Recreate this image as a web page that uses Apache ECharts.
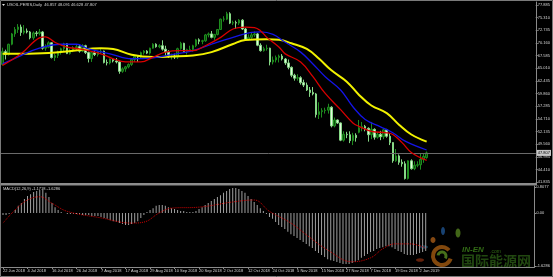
<!DOCTYPE html>
<html><head><meta charset="utf-8">
<script src="https://cdn.jsdelivr.net/npm/echarts@6/dist/echarts.min.js"></script>
<style>html,body{margin:0;padding:0;background:#000;}#c{width:553px;height:277px;}</style>
</head><body><div id="c"></div>
<script>
// ---- data ----
const dates = [
'22 Jun 2018','25 Jun 2018','26 Jun 2018','27 Jun 2018','28 Jun 2018','29 Jun 2018',
'2 Jul 2018','3 Jul 2018','4 Jul 2018','5 Jul 2018','6 Jul 2018','9 Jul 2018','10 Jul 2018','11 Jul 2018','12 Jul 2018','13 Jul 2018','16 Jul 2018','17 Jul 2018','18 Jul 2018','19 Jul 2018','20 Jul 2018','23 Jul 2018','24 Jul 2018','25 Jul 2018','26 Jul 2018','27 Jul 2018','30 Jul 2018','31 Jul 2018',
'1 Aug 2018','2 Aug 2018','3 Aug 2018','6 Aug 2018','7 Aug 2018','8 Aug 2018','9 Aug 2018','10 Aug 2018','13 Aug 2018','14 Aug 2018','15 Aug 2018','16 Aug 2018','17 Aug 2018','20 Aug 2018','21 Aug 2018','22 Aug 2018','23 Aug 2018','24 Aug 2018','27 Aug 2018','28 Aug 2018','29 Aug 2018','30 Aug 2018','31 Aug 2018',
'3 Sep 2018','4 Sep 2018','5 Sep 2018','6 Sep 2018','7 Sep 2018','10 Sep 2018','11 Sep 2018','12 Sep 2018','13 Sep 2018','14 Sep 2018','17 Sep 2018','18 Sep 2018','19 Sep 2018','20 Sep 2018','21 Sep 2018','24 Sep 2018','25 Sep 2018','26 Sep 2018','27 Sep 2018','28 Sep 2018',
'1 Oct 2018','2 Oct 2018','3 Oct 2018','4 Oct 2018','5 Oct 2018','8 Oct 2018','9 Oct 2018','10 Oct 2018','11 Oct 2018','12 Oct 2018','15 Oct 2018','16 Oct 2018','17 Oct 2018','18 Oct 2018','19 Oct 2018','22 Oct 2018','23 Oct 2018','24 Oct 2018','25 Oct 2018','26 Oct 2018','29 Oct 2018','30 Oct 2018','31 Oct 2018',
'1 Nov 2018','2 Nov 2018','5 Nov 2018','6 Nov 2018','7 Nov 2018','8 Nov 2018','9 Nov 2018','12 Nov 2018','13 Nov 2018','14 Nov 2018','15 Nov 2018','16 Nov 2018','19 Nov 2018','20 Nov 2018','21 Nov 2018','22 Nov 2018','23 Nov 2018','26 Nov 2018','27 Nov 2018','28 Nov 2018','29 Nov 2018','30 Nov 2018',
'3 Dec 2018','4 Dec 2018','5 Dec 2018','6 Dec 2018','7 Dec 2018','10 Dec 2018','11 Dec 2018','12 Dec 2018','13 Dec 2018','14 Dec 2018','17 Dec 2018','18 Dec 2018','19 Dec 2018','20 Dec 2018','21 Dec 2018','24 Dec 2018','26 Dec 2018','27 Dec 2018','28 Dec 2018','31 Dec 2018',
'2 Jan 2019','3 Jan 2019','4 Jan 2019'];

const open = [65.8,68.4,67.8,69.9,72.0,72.9,73.4,72.3,72.6,72.4,71.2,72.2,72.1,72.4,69.1,69.3,70.2,67.2,67.6,68.3,69.0,70.0,68.0,68.6,69.2,69.4,68.5,69.6,
68.2,67.0,68.2,67.8,68.4,68.5,66.2,66.1,66.9,66.5,66.3,64.4,64.9,65.3,65.8,66.8,67.4,67.3,68.2,68.5,68.1,69.1,69.9,
69.4,69.6,68.9,68.3,67.4,67.5,67.3,69.0,70.1,68.4,68.8,68.8,69.6,70.8,70.5,70.6,71.8,72.0,71.3,71.9,
72.9,75.0,75.0,76.1,74.2,74.3,74.2,74.8,73.0,70.9,71.3,71.8,72.0,69.7,68.6,69.0,69.1,66.3,66.7,67.2,67.5,66.9,66.1,
65.2,63.6,63.0,63.1,62.1,61.6,60.6,60.1,59.8,55.6,56.2,56.4,56.5,57.1,53.3,54.5,53.9,50.4,51.6,51.5,50.3,51.4,
52.0,52.9,53.2,52.8,51.5,52.6,51.0,51.6,51.1,52.5,51.2,49.9,46.2,47.2,45.9,45.6,42.6,46.2,44.6,45.3,
45.4,46.5,46.857];
const high = [69.2,68.8,70.0,72.2,73.4,74.0,73.9,73.8,73.1,72.6,72.5,72.6,73.0,72.6,69.9,70.5,70.3,68.0,68.6,69.2,70.2,70.1,69.0,69.5,69.8,69.9,69.9,69.8,
68.4,68.3,68.5,68.6,68.9,68.6,66.8,67.0,67.1,67.1,66.4,65.2,65.5,66.0,66.9,67.6,67.6,68.4,68.7,68.7,69.2,70.1,70.1,
69.9,70.7,69.6,68.7,68.0,68.0,69.2,70.4,70.2,69.0,69.6,69.8,71.0,71.1,70.8,72.0,72.3,72.6,72.0,73.0,
75.1,75.6,76.5,76.4,74.7,74.7,75.0,75.0,73.2,71.9,72.2,72.5,72.2,70.1,69.4,69.8,69.2,67.4,67.6,67.8,67.9,67.1,66.8,
65.4,63.9,63.8,63.4,62.7,62.1,61.2,61.2,60.0,58.1,56.9,57.0,57.8,57.3,55.0,54.6,54.0,52.2,52.1,52.2,51.9,51.8,
54.5,54.1,53.5,53.0,54.1,52.8,52.0,52.3,52.7,52.7,51.8,50.0,48.6,47.5,46.5,46.1,46.3,46.5,46.1,46.1,
47.7,47.6,48.091];
const low = [65.6,66.8,67.6,69.7,71.4,72.2,71.6,71.9,72.1,70.9,70.8,71.5,71.7,68.8,68.6,69.1,67.0,66.5,67.1,67.8,68.4,67.9,67.8,68.3,68.7,68.2,68.3,67.9,
66.2,66.3,67.5,67.4,68.0,66.0,65.6,65.8,66.2,66.0,63.9,64.1,64.3,65.0,65.5,66.3,66.3,67.1,67.8,67.9,67.8,69.0,69.2,
69.1,68.6,67.6,67.1,66.8,66.9,66.9,68.8,68.3,67.8,68.4,68.4,69.3,69.9,69.9,70.4,71.3,71.1,70.8,71.7,
72.8,74.5,74.8,74.0,73.8,73.0,73.8,72.8,70.7,70.7,71.0,71.4,69.5,68.4,68.4,68.6,65.6,65.8,66.2,66.2,66.6,65.7,64.8,
63.2,62.5,62.5,61.7,61.2,60.4,59.2,59.5,55.0,54.7,55.0,55.8,55.8,53.0,53.0,53.7,50.2,50.1,50.8,49.8,49.4,50.1,
51.8,52.2,52.2,50.1,50.6,50.5,50.7,50.4,50.6,50.9,49.4,45.8,46.0,45.4,45.0,42.4,42.4,44.4,44.3,44.9,
44.4,45.8,46.628];
const close = [68.4,67.8,69.9,72.0,72.9,73.4,72.3,72.6,72.4,71.2,72.2,72.1,72.4,69.1,69.3,70.2,67.2,67.6,68.3,69.0,70.0,68.0,68.6,69.2,69.4,68.5,69.6,68.2,
67.0,68.2,67.8,68.4,68.5,66.2,66.1,66.9,66.5,66.3,64.4,64.9,65.3,65.8,66.8,67.4,67.3,68.2,68.5,68.1,69.1,69.9,69.4,
69.6,68.9,68.3,67.4,67.5,67.3,69.0,70.1,68.4,68.8,68.8,69.6,70.8,70.5,70.6,71.8,72.0,71.3,71.9,72.9,
75.0,75.0,76.1,74.2,74.3,74.2,74.8,73.0,70.9,71.3,71.8,72.0,69.7,68.6,69.0,69.1,66.3,66.7,67.2,67.5,66.9,66.1,65.2,
63.6,63.0,63.1,62.1,61.6,60.6,60.1,59.8,55.6,56.2,56.4,56.5,57.1,53.3,54.5,53.9,50.4,51.6,51.5,50.3,51.4,50.9,
52.9,53.2,52.8,51.5,52.6,51.0,51.6,51.1,52.5,51.2,49.9,46.2,47.2,45.9,45.6,42.6,46.2,44.6,45.3,45.4,
46.5,47.1,47.807];

// moving averages: [bar index, price]
const maRed = [[0,65.6],[6,67.95],[12,71.2],[14,71.4],[17,70.3],[21,69.3],[25,68.95],[32,67.95],[36,66.95],[40,66.3],[45,66.3],[49,67.3],[53,68.3],[58,68.6],[62,68.6],[66,69.6],[71,71.3],[75,73.0],[79,73.4],[82,73.3],[84,72.6],[86,71.3],[88,70.3],[90,69.3],[92,67.95],[97,66.3],[101,63.3],[105,59.9],[110,56.6],[114,53.9],[116,53.2],[120,52.2],[125,51.9],[127,51.55],[130,49.9],[133,47.9],[138,46.3]];
const maBlue = [[0,65.9],[6,67.6],[12,69.1],[19,69.9],[24,69.9],[28,68.95],[35,67.95],[42,66.95],[49,67.15],[55,67.8],[62,68.6],[68,69.9],[75,71.3],[81,72.3],[84,72.4],[88,71.9],[92,70.3],[97,68.3],[101,65.9],[105,63.3],[110,60.6],[114,57.2],[118,54.6],[123,53.1],[127,51.9],[131,50.2],[138,48.4]];
const maYellow = [[0,67.95],[6,67.95],[15,68.1],[23,68.6],[32,69.1],[36,68.95],[42,67.75],[49,67.3],[55,67.4],[62,67.6],[68,68.3],[75,69.95],[79,70.75],[86,70.9],[90,70.8],[94,70.1],[99,68.95],[103,66.95],[107,64.6],[112,62.3],[116,59.6],[120,57.45],[125,55.9],[129,53.55],[133,51.55],[138,50.1]];

// MACD(12,26,9) main histogram, one value per bar
const macdHist = [-0.06,-0.06,-0.03,0.00,0.09,0.22,0.31,0.43,0.52,0.58,0.65,0.68,0.71,0.71,0.62,0.49,0.31,0.18,0.09,0.03,0.00,-0.03,-0.03,
-0.03,-0.03,-0.03,-0.06,-0.06,-0.06,-0.09,-0.09,-0.09,
-0.12,-0.15,-0.18,-0.22,-0.25,-0.28,-0.31,-0.34,-0.37,-0.37,-0.34,-0.31,-0.25,
-0.15,-0.06,0.03,0.09,0.15,0.22,0.25,0.25,0.22,0.18,0.15,0.12,
0.09,0.06,0.06,0.03,0.03,0.03,0.06,
0.12,0.18,0.25,0.31,0.37,0.43,0.49,0.55,0.62,0.68,0.74,0.77,
0.77,0.74,0.68,0.62,0.52,0.43,0.34,0.25,0.15,
0.06,-0.03,-0.12,-0.18,-0.28,-0.37,
-0.43,-0.49,-0.58,-0.65,-0.71,-0.77,-0.83,-0.89,-0.95,-1.02,
-1.08,-1.17,-1.23,-1.29,-1.35,-1.42,-1.45,-1.48,-1.51,-1.54,
-1.57,-1.57,-1.57,-1.54,-1.51,-1.45,-1.38,-1.32,
-1.26,-1.20,-1.17,-1.11,-1.08,-1.05,-1.02,-1.02,-1.05,-1.11,-1.17,-1.20,
-1.26,-1.29,-1.29,-1.29,-1.26,-1.23,-1.20,-1.17];
// signal line: [bar index, value]
const macdSignal = [[0,-0.31],[4,0.1],[8,0.4],[12,0.5],[16,0.3],[21,0.05],[32,-0.15],[42,-0.31],[46,-0.28],[51,0.0],[55,0.15],[64,0.18],[75,0.34],[82,0.4],[87,0.05],[94,-0.31],[100,-0.74],[106,-1.14],[114,-1.5],[120,-1.38],[124,-1.1],[128,-0.95],[133,-0.95],[138,-1.08]];

const priceTicks = [77.885,75.310,72.735,70.160,67.585,65.010,62.435,59.860,57.285,54.710,52.135,49.560,46.985,44.410,41.835];
const macdTicks = [0.8077,0,-1.6286];
const titleText = 'USOIL.PERIS,Daily  46.857 48.091 46.628 47.807';
const macdTitle = 'MACD(12,26,9) -1.1718 -1.6286';
const lastPrice = 47.807;
const SHIFT = 35;

// ---- chart ----
const cats = dates.concat(new Array(SHIFT).fill(''));
const candles = dates.map((d, i) => [open[i], close[i], low[i], high[i]]);
const N = dates.length;
const showIdx = (i) => i % 8 === 0 && i < N;
const axisGray = '#8a8a8a';
const txt = '#d6d6d6';
const fam = 'Liberation Sans, Arial, sans-serif';

const chart = echarts.init(document.getElementById('c'), null, {renderer: 'canvas'});
chart.setOption({
  backgroundColor: '#000',
  animation: false,
  grid: [
    {left: 1, right: 16, top: 2, height: 181},
    {left: 1, right: 16, top: 186, height: 81}
  ],
  xAxis: [
    {type: 'category', gridIndex: 0, data: cats, boundaryGap: true,
     axisLine: {show: false, onZero: false}, axisTick: {show: false}, axisLabel: {show: false}, splitLine: {show: false}},
    {type: 'category', gridIndex: 1, data: cats, boundaryGap: true,
     axisLine: {show: true, onZero: false, lineStyle: {color: axisGray}},
     axisTick: {show: true, interval: showIdx, alignWithLabel: true, length: 2, lineStyle: {color: axisGray}},
     axisLabel: {interval: showIdx, align: 'left', fontSize: 4, color: txt, margin: 2, fontFamily: fam},
     splitLine: {show: false}}
  ],
  yAxis: [
    {type: 'value', gridIndex: 0, position: 'right', min: 41.69, max: 78.49,
     axisLine: {show: true, lineStyle: {color: axisGray}},
     axisTick: {show: true, length: 2, customValues: priceTicks, lineStyle: {color: axisGray}},
     axisLabel: {customValues: priceTicks, formatter: v => v.toFixed(3), fontSize: 4, color: txt, margin: 2, fontFamily: fam},
     splitLine: {show: false}},
    {type: 'value', gridIndex: 1, position: 'right', min: -1.6615, max: 0.8308,
     axisLine: {show: true, lineStyle: {color: axisGray}},
     axisTick: {show: true, length: 2, customValues: macdTicks, lineStyle: {color: axisGray}},
     axisLabel: {customValues: macdTicks, formatter: v => v === 0 ? '0.00' : v.toFixed(4), fontSize: 4, color: txt, margin: 2, fontFamily: fam},
     splitLine: {show: false}}
  ],
  series: [
    {type: 'candlestick', xAxisIndex: 0, yAxisIndex: 0, data: candles, barWidth: 2,
     itemStyle: {color: '#0b4f0b', color0: '#e2f8dc', borderColor: '#1e8c1e', borderColor0: '#86d886', borderWidth: 1},
     markLine: {silent: true, symbol: 'none', animation: false,
       lineStyle: {color: '#6a6a6a', width: 1, type: 'solid'},
       label: {show: true, position: 'end', formatter: lastPrice.toFixed(3), backgroundColor: '#c8c8c8', color: '#000', fontSize: 4, padding: [1, 1], distance: 1, fontFamily: fam},
       data: [{yAxis: lastPrice}]}},
    {type: 'line', xAxisIndex: 0, yAxisIndex: 0, data: maYellow, smooth: 0.4, showSymbol: false, z: 5,
     lineStyle: {color: '#f2f200', width: 2}},
    {type: 'line', xAxisIndex: 0, yAxisIndex: 0, data: maBlue, smooth: 0.4, showSymbol: false, z: 6,
     lineStyle: {color: '#1414e6', width: 1.3}},
    {type: 'line', xAxisIndex: 0, yAxisIndex: 0, data: maRed, smooth: 0.4, showSymbol: false, z: 7,
     lineStyle: {color: '#d80000', width: 1.3}},
    {type: 'bar', xAxisIndex: 1, yAxisIndex: 1, data: macdHist, barWidth: 1,
     itemStyle: {color: '#a0a0a0'}},
    {type: 'line', xAxisIndex: 1, yAxisIndex: 1, data: macdSignal, smooth: 0.4, showSymbol: false, z: 6,
     lineStyle: {color: '#cc0000', width: 1, type: 'dotted'}}
  ],
  graphic: [
    {type: 'rect', shape: {x: 0.5, y: 0.5, width: 552, height: 276}, style: {fill: 'none', stroke: '#7a7a7a', lineWidth: 1}, z: 100},
    {type: 'rect', shape: {x: 1, y: 183, width: 536, height: 2.5}, style: {fill: '#8c8c8c'}, z: 100},
    {type: 'polygon', shape: {points: [[2, 4], [5, 4], [3.5, 6]]}, style: {fill: '#ddd'}, z: 100},
    {type: 'text', left: 7, top: 3, style: {text: titleText, fill: txt, fontSize: 4, fontFamily: fam}, z: 100},
    {type: 'text', left: 3, top: 187, style: {text: macdTitle, fill: txt, fontSize: 4, fontFamily: fam}, z: 100},
    // watermark
    {type: 'group', z: 90, children: [
      {type: 'ellipse', shape: {cx: 443, cy: 231, rx: 2, ry: 4}, style: {fill: 'rgba(40,110,190,0.6)'}},
      {type: 'ellipse', shape: {cx: 458, cy: 233, rx: 2.5, ry: 4.5}, style: {fill: 'rgba(110,170,40,0.6)'}},
      {type: 'ellipse', shape: {cx: 433, cy: 240, rx: 2.5, ry: 3}, style: {fill: 'rgba(220,120,30,0.6)'}},
      {type: 'ellipse', shape: {cx: 424, cy: 247, rx: 4, ry: 1.8}, style: {fill: 'rgba(30,100,140,0.55)'}},
      {type: 'ellipse', shape: {cx: 420, cy: 260, rx: 4, ry: 1.8}, style: {fill: 'rgba(180,60,20,0.55)'}},
      {type: 'arc', shape: {cx: 442, cy: 256, r: 9, startAngle: 0.3, endAngle: 5.6}, style: {stroke: 'rgba(200,110,20,0.65)', lineWidth: 4, fill: 'none'}},
      {type: 'arc', shape: {cx: 442, cy: 256, r: 4, startAngle: 3.3, endAngle: 6.9}, style: {stroke: 'rgba(110,170,40,0.65)', lineWidth: 3, fill: 'none'}},
      {type: 'text', left: 462, top: 246, style: {text: 'IN-EN', fill: 'rgba(70,150,30,0.7)', fontSize: 8, fontWeight: 'bold', fontStyle: 'italic', fontFamily: fam}},
      {type: 'text', left: 490, top: 249, style: {text: '.com', fill: 'rgba(70,150,30,0.7)', fontSize: 5, fontFamily: fam}},
      {type: 'text', left: 461, top: 254, style: {text: '国际能源网', fill: 'rgba(60,130,30,0.55)', fontSize: 14, fontWeight: 'bold', fontFamily: 'Noto Sans CJK SC'}}
    ]}
  ]
});
</script></body></html>
